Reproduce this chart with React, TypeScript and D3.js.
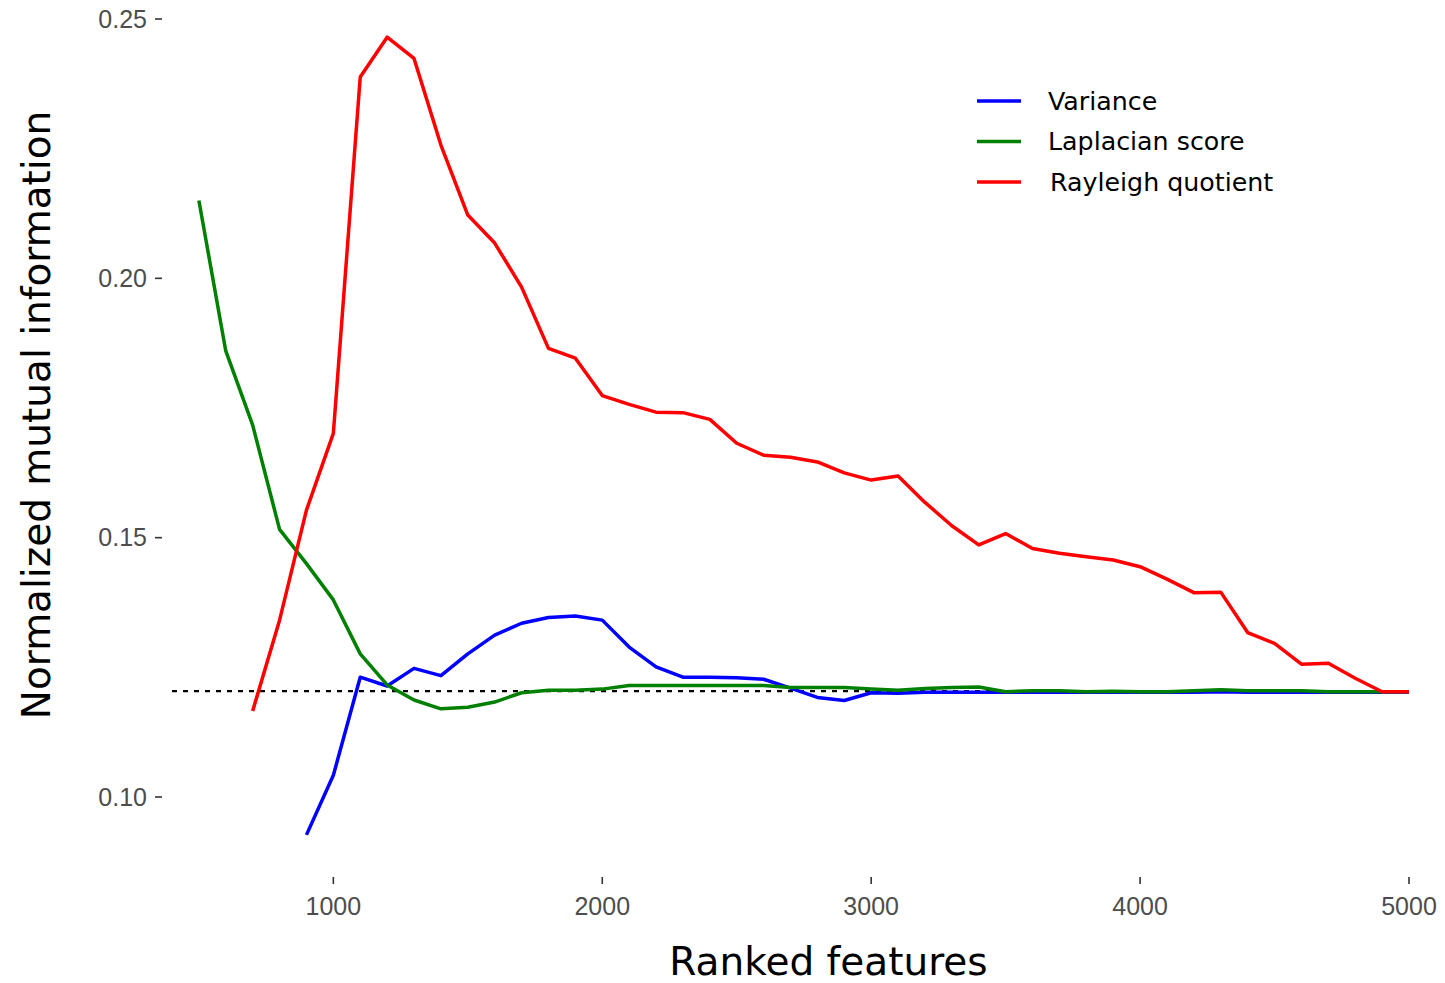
import React from "react";
import * as d3 from "d3";

// Number of ranked features kept (x values shared by all series)
const features: number[] = [
  500, 600, 700, 800, 900, 1000, 1100, 1200, 1300, 1400, 1500, 1600, 1700, 1800, 1900,
  2000, 2100, 2200, 2300, 2400, 2500, 2600, 2700, 2800, 2900, 3000, 3100, 3200, 3300,
  3400, 3500, 3600, 3700, 3800, 3900, 4000, 4100, 4200, 4300, 4400, 4500, 4600, 4700,
  4800, 4900, 5000,
];

// NMI per feature-ranking method (null = not computed at that size)
const varianceNMI: (number | null)[] = [
  null, null, null, null, 0.0927, 0.1042, 0.1231, 0.1214, 0.1248, 0.1234, 0.1276, 0.1312,
  0.1335, 0.1346, 0.1349, 0.1341, 0.1289, 0.1251, 0.1231, 0.1231, 0.1230, 0.1227, 0.1210,
  0.1192, 0.1186, 0.1201, 0.1200, 0.1202, 0.1202, 0.1202, 0.1202, 0.1202, 0.1202, 0.1202,
  0.1202, 0.1202, 0.1202, 0.1202, 0.1203, 0.1202, 0.1202, 0.1202, 0.1202, 0.1202, 0.1202,
  0.1202,
];

const laplacianNMI: (number | null)[] = [
  0.2150, 0.1860, 0.1717, 0.1516, 0.1450, 0.1380, 0.1276, 0.1216, 0.1187, 0.1170, 0.1173,
  0.1183, 0.1201, 0.1206, 0.1206, 0.1208, 0.1215, 0.1215, 0.1215, 0.1215, 0.1215, 0.1215,
  0.1211, 0.1211, 0.1211, 0.1208, 0.1206, 0.1209, 0.1211, 0.1212, 0.1203, 0.1205, 0.1205,
  0.1203, 0.1204, 0.1203, 0.1203, 0.1205, 0.1207, 0.1205, 0.1205, 0.1205, 0.1203, 0.1203,
  0.1203, 0.1203,
];

const rayleighNMI: (number | null)[] = [
  null, null, 0.1166, 0.1341, 0.1553, 0.1701, 0.2388, 0.2465, 0.2424, 0.2257, 0.2122,
  0.2068, 0.1983, 0.1865, 0.1846, 0.1774, 0.1757, 0.1742, 0.1741, 0.1728, 0.1682, 0.1659,
  0.1655, 0.1646, 0.1625, 0.1611, 0.1619, 0.1568, 0.1523, 0.1486, 0.1508, 0.1479, 0.1470,
  0.1463, 0.1457, 0.1444, 0.1420, 0.1394, 0.1395, 0.1317, 0.1296, 0.1256, 0.1258, 0.1229,
  0.1203, 0.1203,
];

// NMI obtained with all features (reference level)
const baselineNMI = 0.1204;
const baselineSpan: number[] = [400, 5000];

const xTicks: number[] = [1000, 2000, 3000, 4000, 5000];
const yTicks: number[] = [0.1, 0.15, 0.2, 0.25];

const seriesNames: string[] = ["Variance", "Laplacian score", "Rayleigh quotient"];
const seriesColors: string[] = ["#0000ff", "#008000", "#ff0000"];
const seriesValues = [varianceNMI, laplacianNMI, rayleighNMI];

const W = 1445;
const H = 983;

export default function App() {
  const x = d3.scaleLinear().domain([400, 5000]).range([172, 1409]);
  const y = d3.scaleLinear().domain([0.1, 0.25]).range([797, 19]);

  const line = d3
    .line<[number, number | null]>()
    .defined((d) => d[1] !== null)
    .x((d) => x(d[0]))
    .y((d) => y(d[1] as number));

  const tickFont = "'Liberation Sans', Arial, sans-serif";
  const titleFont = "'DejaVu Sans', sans-serif";

  return (
    <svg
      width={W}
      height={H}
      style={{ position: "absolute", left: 0, top: 0, background: "#fff" }}
    >
      {/* reference level */}
      <line
        x1={x(baselineSpan[0])}
        x2={x(baselineSpan[1])}
        y1={y(baselineNMI)}
        y2={y(baselineNMI)}
        stroke="#000"
        strokeWidth={2.2}
        strokeDasharray="5,6"
      />

      {/* series */}
      {seriesValues.map((vals, i) => (
        <path
          key={seriesNames[i]}
          d={line(features.map((f, j) => [f, vals[j]] as [number, number | null])) || ""}
          fill="none"
          stroke={seriesColors[i]}
          strokeWidth={3.5}
          strokeLinejoin="round"
        />
      ))}

      {/* y axis */}
      {yTicks.map((t) => (
        <g key={t}>
          <line x1={155} x2={162} y1={y(t)} y2={y(t)} stroke="#333" strokeWidth={1.6} />
          <text
            x={147}
            y={y(t) + 8.5}
            textAnchor="end"
            fontFamily={tickFont}
            fontSize={25}
            fill="#4d4d4d"
          >
            {d3.format(".2f")(t)}
          </text>
        </g>
      ))}

      {/* x axis */}
      {xTicks.map((t) => (
        <g key={t}>
          <line x1={x(t)} x2={x(t)} y1={877} y2={884} stroke="#333" strokeWidth={1.6} />
          <text
            x={x(t)}
            y={915}
            textAnchor="middle"
            fontFamily={tickFont}
            fontSize={25}
            fill="#4d4d4d"
          >
            {t}
          </text>
        </g>
      ))}

      {/* axis titles */}
      <text
        x={828.5}
        y={975}
        textAnchor="middle"
        fontFamily={titleFont}
        fontSize={39}
        fill="#000"
      >
        Ranked features
      </text>
      <text
        transform={`translate(50,415) rotate(-90)`}
        textAnchor="middle"
        fontFamily={titleFont}
        fontSize={39}
        fill="#000"
      >
        Normalized mutual information
      </text>

      {/* legend */}
      {seriesNames.map((name, i) => {
        const ly = 101 + i * 40.5;
        return (
          <g key={name}>
            <line
              x1={977}
              x2={1021}
              y1={ly}
              y2={ly}
              stroke={seriesColors[i]}
              strokeWidth={3.5}
            />
            <text
              x={i === 2 ? 1050 : 1048}
              y={ly + 8.5}
              fontFamily={titleFont}
              fontSize={25.3}
              fill="#000"
            >
              {name}
            </text>
          </g>
        );
      })}
    </svg>
  );
}
